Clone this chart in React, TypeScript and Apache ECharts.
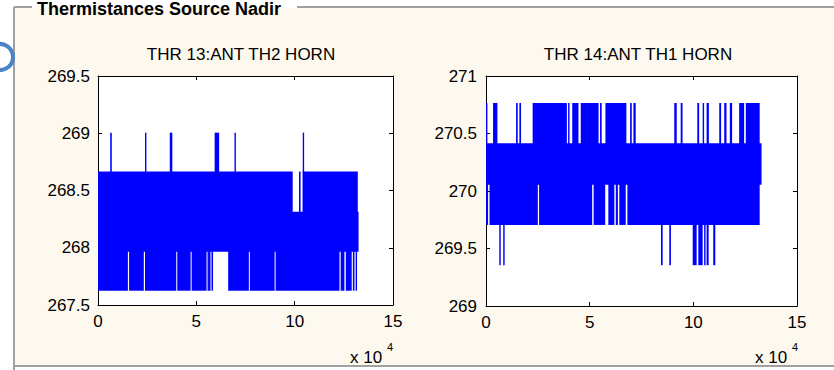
import React, { useEffect, useRef } from "react";
import * as echarts from "echarts";

// ---- texts ----
const PANEL_TITLE = "Thermistances Source Nadir";
const LEFT_TITLE = "THR 13:ANT TH2 HORN";
const RIGHT_TITLE = "THR 14:ANT TH1 HORN";
const X_SCALE_TEXT = "x 10";
const X_SCALE_EXP = "4";

// ---- axes ----
const X_MIN = 0;
const X_MAX = 15;
const X_STEP = 5;
const LEFT_Y = [267.5, 269.5];
const RIGHT_Y = [269, 271];
const Y_STEP = 0.5;

// ---- quantised levels of each thermistor (K) ----
const LEFT_LEVELS = [267.63, 267.97, 268.31, 268.66, 269.0];
const RIGHT_LEVELS = [269.36, 269.71, 270.06, 270.41, 270.76];

// ---- occupied sample ranges (x 10^4 samples) for each level step ----
// THR 13
const LEFT_SPIKE = [[0.62, 0.7], [2.39, 2.46], [3.65, 3.78], [5.93, 6.16], [6.94, 7.01], [10.41, 10.48]];
const LEFT_UPPER = [[0, 9.9], [10.22, 10.3], [10.4, 13.21]];
const LEFT_MID = [[0, 13.25]];
const LEFT_LOW = [
  [0, 1.52], [1.58, 2.33], [2.39, 3.98], [4.03, 4.71], [4.76, 5.52], [5.57, 5.6],
  [5.64, 5.72], [5.77, 5.85], [6.62, 7.67], [7.72, 8.98], [9.03, 12.28],
  [12.34, 12.53], [12.6, 12.9], [12.96, 13.04], [13.1, 13.16],
];
// THR 14
const RIGHT_SPIKE_UP = [
  [0, 0.04], [0.34, 0.55], [1.45, 1.53], [1.61, 1.69], [2.25, 3.9], [3.96, 4.03],
  [4.16, 4.46], [4.57, 5.43], [5.5, 5.58], [5.76, 6.77], [6.95, 7.03], [7.11, 7.22],
  [9.08, 9.2], [9.39, 9.48], [10.19, 10.28], [10.45, 10.52], [10.64, 10.75],
  [11.25, 11.34], [11.49, 11.6], [11.76, 11.87], [12.21, 12.45], [12.53, 13.2],
];
const RIGHT_MID = [[0, 13.29]];
const RIGHT_LOW = [
  [0, 0.1], [0.17, 2.5], [2.56, 5.12], [5.19, 5.75], [5.9, 6.19], [6.26, 6.36],
  [6.43, 6.74], [6.82, 13.2],
];
const RIGHT_SPIKE_DOWN = [
  [0.64, 0.71], [0.83, 0.9], [8.44, 8.52], [8.84, 8.92], [9.97, 10.16],
  [10.24, 10.45], [10.52, 10.59], [10.64, 10.74], [10.96, 11.06],
];

const FONT = "'Liberation Sans', Arial, sans-serif";
const BLUE = "#0000ff";

function bandItems(ranges: number[][], lo: number, hi: number) {
  return ranges.map((r) => [r[0], r[1], lo, hi]);
}

function renderBand(params: any, api: any) {
  const x0 = api.value(0);
  const x1 = api.value(1);
  const lo = api.value(2);
  const hi = api.value(3);
  const p0 = api.coord([x0, hi]);
  const p1 = api.coord([x1, lo]);
  let w = p1[0] - p0[0];
  if (w < 1.4) w = 1.4;
  return {
    type: "rect",
    shape: { x: p0[0], y: p0[1] - 0.6, width: w, height: p1[1] - p0[1] + 1.2 },
    style: { fill: BLUE },
  };
}

function xAxes(grid: number) {
  const base = {
    gridIndex: grid,
    type: "value",
    min: X_MIN,
    max: X_MAX,
    interval: X_STEP,
    axisLine: { show: true, onZero: false, lineStyle: { color: "#000", width: 1 } },
    axisTick: { show: true, inside: true, length: 4, lineStyle: { color: "#000" } },
    splitLine: { show: false },
  };
  return [
    { ...base, position: "bottom", axisLabel: { fontSize: 17, color: "#000", margin: 8, fontFamily: FONT } },
    { ...base, position: "top", axisLabel: { show: false } },
  ];
}

function yAxes(grid: number, range: number[], margin: number) {
  const base = {
    gridIndex: grid,
    type: "value",
    min: range[0],
    max: range[1],
    interval: Y_STEP,
    axisLine: { show: true, onZero: false, lineStyle: { color: "#000", width: 1 } },
    axisTick: { show: true, inside: true, length: 4, lineStyle: { color: "#000" } },
    splitLine: { show: false },
  };
  return [
    { ...base, position: "left", axisLabel: { fontSize: 17, color: "#000", margin, fontFamily: FONT } },
    { ...base, position: "right", axisLabel: { show: false } },
  ];
}

export default function App() {
  const ref = useRef<HTMLDivElement>(null);
  useEffect(() => {
    if (!ref.current) return;
    const chart = echarts.init(ref.current, null, { renderer: "svg", width: 834, height: 370 });

    const leftData = [
      ...bandItems(LEFT_LOW, LEFT_LEVELS[0], LEFT_LEVELS[1]),
      ...bandItems(LEFT_MID, LEFT_LEVELS[1], LEFT_LEVELS[2]),
      ...bandItems(LEFT_UPPER, LEFT_LEVELS[2], LEFT_LEVELS[3]),
      ...bandItems(LEFT_SPIKE, LEFT_LEVELS[3], LEFT_LEVELS[4]),
    ];
    const rightData = [
      ...bandItems(RIGHT_SPIKE_DOWN, RIGHT_LEVELS[0], RIGHT_LEVELS[1]),
      ...bandItems(RIGHT_LOW, RIGHT_LEVELS[1], RIGHT_LEVELS[2]),
      ...bandItems(RIGHT_MID, RIGHT_LEVELS[2], RIGHT_LEVELS[3]),
      ...bandItems(RIGHT_SPIKE_UP, RIGHT_LEVELS[3], RIGHT_LEVELS[4]),
    ];

    const textStyle = (size: number, weight: string = "normal") => ({
      fontSize: size,
      fontFamily: FONT,
      fontWeight: weight,
      fill: "#000",
    });

    chart.setOption({
      animation: false,
      backgroundColor: "#ffffff",
      grid: [
        { left: 98, top: 76, width: 295, height: 229, show: true, backgroundColor: "#ffffff", borderWidth: 0 },
        { left: 486, top: 76, width: 311, height: 230, show: true, backgroundColor: "#ffffff", borderWidth: 0 },
      ],
      xAxis: [...xAxes(0), ...xAxes(1)],
      yAxis: [...yAxes(0, LEFT_Y, 8), ...yAxes(1, RIGHT_Y, 9)],
      series: [
        {
          type: "custom",
          coordinateSystem: "cartesian2d",
          xAxisIndex: 0,
          yAxisIndex: 0,
          renderItem: renderBand,
          encode: { x: [0, 1], y: [2, 3] },
          data: leftData,
          clip: true,
        },
        {
          type: "custom",
          coordinateSystem: "cartesian2d",
          xAxisIndex: 2,
          yAxisIndex: 2,
          renderItem: renderBand,
          encode: { x: [0, 1], y: [2, 3] },
          data: rightData,
          clip: true,
        },
      ],
      graphic: [
        {
          type: "rect",
          z: -10,
          silent: true,
          shape: { x: 15, y: 8, width: 819, height: 357 },
          style: { fill: "#fdf9ee" },
        },
        { type: "line", z: -5, shape: { x1: 14, y1: 7, x2: 32, y2: 7 }, style: { stroke: "#a0a0a0", lineWidth: 2 } },
        { type: "line", z: -5, shape: { x1: 297, y1: 7, x2: 834, y2: 7 }, style: { stroke: "#a0a0a0", lineWidth: 2 } },
        { type: "line", z: -5, shape: { x1: 14, y1: 7, x2: 14, y2: 370 }, style: { stroke: "#a0a0a0", lineWidth: 2 } },
        { type: "line", z: -5, shape: { x1: 14, y1: 366, x2: 834, y2: 366 }, style: { stroke: "#a0a0a0", lineWidth: 2 } },
        {
          type: "circle",
          z: 5,
          shape: { cx: 0, cy: 57, r: 13 },
          style: { fill: "none", stroke: "#4a84c6", lineWidth: 4 },
        },
        {
          type: "text",
          x: 37,
          y: 9,
          style: { text: PANEL_TITLE, ...textStyle(18, "bold"), align: "left", verticalAlign: "middle" },
        },
        {
          type: "text",
          x: 241,
          y: 54,
          style: { text: LEFT_TITLE, ...textStyle(17), align: "center", verticalAlign: "middle" },
        },
        {
          type: "text",
          x: 638,
          y: 54,
          style: { text: RIGHT_TITLE, ...textStyle(17), align: "center", verticalAlign: "middle" },
        },
        {
          type: "text",
          x: 350,
          y: 357,
          style: { text: X_SCALE_TEXT, ...textStyle(17), align: "left", verticalAlign: "middle" },
        },
        {
          type: "text",
          x: 387,
          y: 347,
          style: { text: X_SCALE_EXP, ...textStyle(11), align: "left", verticalAlign: "middle" },
        },
        {
          type: "text",
          x: 755,
          y: 357,
          style: { text: X_SCALE_TEXT, ...textStyle(17), align: "left", verticalAlign: "middle" },
        },
        {
          type: "text",
          x: 792,
          y: 347,
          style: { text: X_SCALE_EXP, ...textStyle(11), align: "left", verticalAlign: "middle" },
        },
      ],
    });
    return () => chart.dispose();
  }, []);
  return (
    <div
      ref={ref}
      style={{ position: "fixed", left: 0, top: 0, width: 834, height: 370 }}
    />
  );
}
